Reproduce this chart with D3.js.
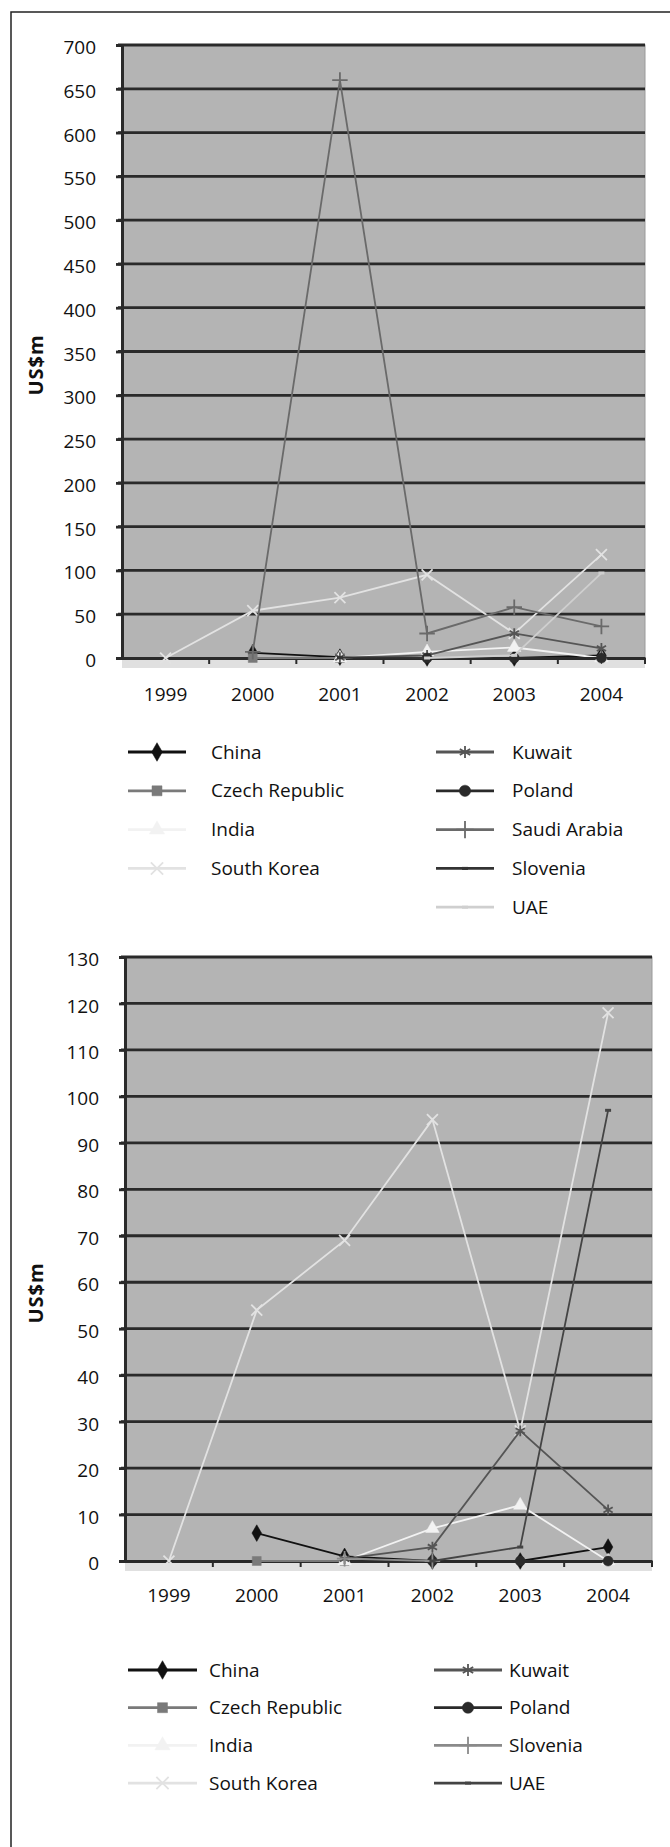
<!DOCTYPE html>
<html>
<head>
<meta charset="utf-8">
<script src="https://cdn.jsdelivr.net/npm/d3@7"></script>
<style>
  body { margin: 0; background: #fff; }
  svg text { font-family: "Open Sans", "DejaVu Sans", sans-serif; fill: #111; }
</style>
</head>
<body>
<div id="chart"></div>
<script>
// data
var years = ["1999", "2000", "2001", "2002", "2003", "2004"];

var names1 = ["China", "Czech Republic", "India", "South Korea", "Kuwait", "Poland", "Saudi Arabia", "Slovenia", "UAE"];
var names2 = ["China", "Czech Republic", "India", "South Korea", "Kuwait", "Poland", "Slovenia", "UAE"];

var china       = [null, 6, 1, 0, 0, 3];
var czech       = [null, 0, 0, null, null, null];
var india       = [null, null, 0, 7, 12, 0];
var southKorea  = [0, 54, 69, 95, 28, 118];
var kuwait      = [null, null, 0.5, 3, 28, 11];
var poland      = [null, null, null, 0, 0, 0];
var saudiArabia = [null, 7, 660, 28, 58, 36];
var slovenia    = [null, null, 0.5, 0, null, null];
var uae         = [null, null, null, 0, 3, 97];

var ticks1 = d3.range(0, 701, 50);
var ticks2 = d3.range(0, 131, 10);

var values1 = [china, czech, india, southKorea, kuwait, poland, saudiArabia, slovenia, uae];
var values2 = [china, czech, india, southKorea, kuwait, poland, slovenia, uae];

// series look by position in the list (Excel style greyscale)
var styles = [
  {color: "#111", mark: "diamond"},
  {color: "#7a7a7a", mark: "square"},
  {color: "#f2f2f2", mark: "triangle"},
  {color: "#e2e2e2", mark: "times"},
  {color: "#555", mark: "asterisk"},
  {color: "#2a2a2a", mark: "circle"},
  {color: "#6a6a6a", mark: "plus"},
  {color: "#333", mark: "dash"},
  {color: "#cfcfcf", mark: "dash"}
];
var styles2 = styles.slice(0, 6).concat([{color: "#8a8a8a", mark: "plus"}, {color: "#444", mark: "dash"}]);

var svg = d3.select("#chart").append("svg")
    .attr("width", 670)
    .attr("height", 1847);

var defs = svg.append("defs");
defs.append("filter").attr("id", "soft")
  .append("feGaussianBlur").attr("stdDeviation", 0.6);

// outer frame (runs off the right and bottom)
svg.append("rect")
    .attr("x", 11).attr("y", 12)
    .attr("width", 700).attr("height", 1900)
    .attr("fill", "none").attr("stroke", "#222").attr("stroke-width", 1.5);

function drawMark(g, type, color, x, y, size) {
  var sym = {
    diamond: d3.symbolDiamond, square: d3.symbolSquare, triangle: d3.symbolTriangle,
    times: d3.symbolTimes || d3.symbolX, asterisk: d3.symbolAsterisk,
    circle: d3.symbolCircle, plus: d3.symbolPlus
  };
  if (type == "dash") {
    g.append("line")
      .attr("x1", x - 3).attr("x2", x + 3).attr("y1", y).attr("y2", y)
      .attr("stroke", color).attr("stroke-width", 3);
    return;
  }
  var stroked = (type == "times" || type == "asterisk" || type == "plus");
  g.append("path")
    .attr("transform", "translate(" + x + "," + y + ")")
    .attr("d", d3.symbol().type(sym[type]).size(size)())
    .attr("fill", stroked ? "none" : color)
    .attr("stroke", color)
    .attr("stroke-width", stroked ? 1.8 : 0.5);
}

function drawChart(c) {
  var x = d3.scaleBand().domain(years).range([c.left, c.right]);
  var y = d3.scaleLinear().domain([0, c.max]).range([c.bottom, c.top]);

  var g = svg.append("g");

  // plot background with a soft edge
  g.append("rect")
    .attr("x", c.left).attr("y", c.bottom).attr("width", c.right - c.left).attr("height", 10)
    .attr("fill", "#e0e0e0").attr("filter", "url(#soft)");
  g.append("rect")
    .attr("x", c.left).attr("y", c.top).attr("width", c.right - c.left).attr("height", c.bottom - c.top)
    .attr("fill", "#b4b4b4").attr("stroke", "#9a9a9a").attr("stroke-width", 1);

  // gridlines
  var grid = g.append("g").attr("filter", "url(#soft)");
  grid.selectAll("line").data(c.ticks.slice(1)).enter().append("line")
    .attr("x1", c.left - 4).attr("x2", c.right)
    .attr("y1", function(d) { return y(d); }).attr("y2", function(d) { return y(d); })
    .attr("stroke", "#2a2a2a").attr("stroke-width", 2.8);

  // axes
  var yAxis = d3.axisLeft(y).tickValues(c.ticks).tickSize(6).tickPadding(20);
  var ya = g.append("g").attr("transform", "translate(" + c.left + ",0)").call(yAxis);
  ya.select(".domain").attr("stroke", "#2a2a2a").attr("stroke-width", 3);
  ya.selectAll(".tick line").attr("stroke", "#2a2a2a").attr("stroke-width", 2.8);
  ya.selectAll(".tick text").attr("font-size", 19).attr("dy", "0.45em")
    .attr("fill", "#111").style("font-family", "'Open Sans', sans-serif");

  var xAxis = d3.axisBottom(x).tickSize(0).tickPadding(c.xPad);
  var xa = g.append("g").attr("transform", "translate(0," + c.bottom + ")").call(xAxis);
  xa.select(".domain").attr("stroke", "#2a2a2a").attr("stroke-width", 2.8);
  xa.selectAll(".tick text").attr("font-size", 19)
    .attr("fill", "#111").style("font-family", "'Open Sans', sans-serif");
  // tick marks at the band edges
  xa.selectAll(".edge").data(years).enter().append("line")
    .attr("class", "edge")
    .attr("x1", function(d) { return x(d) + x.bandwidth(); })
    .attr("x2", function(d) { return x(d) + x.bandwidth(); })
    .attr("y1", 0).attr("y2", 6)
    .attr("stroke", "#2a2a2a").attr("stroke-width", 2);

  // axis title
  g.append("text")
    .attr("transform", "translate(" + 43 + "," + c.labelY + ") rotate(-90)")
    .attr("text-anchor", "middle")
    .attr("font-size", 20).attr("font-weight", 700)
    .attr("letter-spacing", 1)
    .text("US$m");

  // series
  var line = d3.line()
    .defined(function(d) { return d != null; })
    .x(function(d, i) { return x(years[i]) + x.bandwidth() / 2; })
    .y(function(d) { return y(d); });

  var lines = g.append("g");
  c.values.forEach(function(vals, k) {
    var st = c.styles[k];
    lines.append("path")
      .datum(vals)
      .attr("d", line)
      .attr("fill", "none")
      .attr("stroke", st.color)
      .attr("stroke-width", 1.8);
    vals.forEach(function(v, i) {
      if (v == null) return;
      drawMark(lines, st.mark, st.color, x(years[i]) + x.bandwidth() / 2, y(v), 80);
    });
  });

  // legend
  var lg = g.append("g");
  c.names.forEach(function(name, k) {
    var col = k < c.leftCount ? c.legLeft : c.legRight;
    var row = k < c.leftCount ? k : k - c.leftCount;
    var ly = c.legTop + row * c.legStep;
    var st = c.styles[k];
    lg.append("line")
      .attr("x1", col.x1).attr("x2", col.x2).attr("y1", ly).attr("y2", ly)
      .attr("stroke", st.color).attr("stroke-width", 2.8);
    drawMark(lg, st.mark, st.color, (col.x1 + col.x2) / 2, ly, 100);
    lg.append("text")
      .attr("x", col.tx).attr("y", ly).attr("dy", "0.35em")
      .attr("font-size", 19)
      .text(name);
  });
}

drawChart({
  names: names1, values: values1, styles: styles, ticks: ticks1, max: 700,
  left: 122, right: 645, top: 45, bottom: 658, labelY: 365, xPad: 30,
  leftCount: 4, legTop: 752, legStep: 38.8,
  legLeft: {x1: 128, x2: 186, tx: 211},
  legRight: {x1: 436, x2: 494, tx: 512}
});

drawChart({
  names: names2, values: values2, styles: styles2, ticks: ticks2, max: 130,
  left: 125, right: 652, top: 957, bottom: 1561, labelY: 1293, xPad: 28,
  leftCount: 4, legTop: 1670, legStep: 37.7,
  legLeft: {x1: 128, x2: 197, tx: 209},
  legRight: {x1: 434, x2: 502, tx: 509}
});
</script>
</body>
</html>
